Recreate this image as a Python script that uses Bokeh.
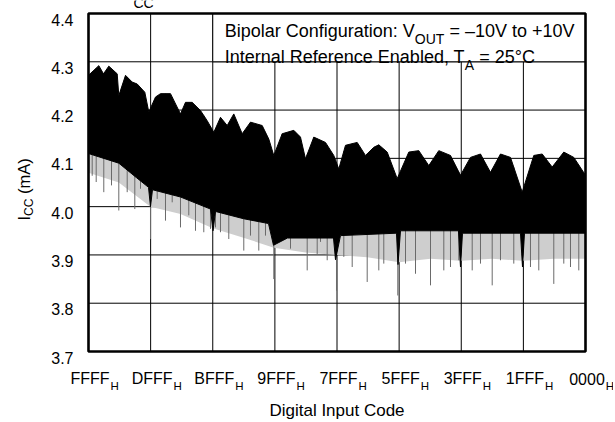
import numpy as np
from bokeh.plotting import figure
from bokeh.models import Label, Range1d
from bokeh.embed import file_html
from bokeh.resources import INLINE

# ---------------- data ----------------
x_ticks = [65535, 57343, 49151, 40959, 32767, 24575, 16383, 8191, 0]
x_tick_labels = ["FFFF", "DFFF", "BFFF", "9FFF", "7FFF", "5FFF", "3FFF", "1FFF", "0000"]
y_ticks = [3.7, 3.8, 3.9, 4.0, 4.1, 4.2, 4.3, 4.4]
y_tick_labels = ["3.7", "3.8", "3.9", "4.0", "4.1", "4.2", "4.3", "4.4"]

# upper envelope of the dense trace (code, I_CC mA)
upper_codes = [65535, 64177, 63557, 62858, 61751, 61540, 60656, 59773, 59114, 58111,
               57584, 56700, 56041, 54722, 53404, 52745, 51861, 50767, 49883, 49013,
               48130, 47246, 46376, 45268, 44174, 42631, 41761, 41101, 39994, 38464,
               37581, 36922, 35827, 34284, 33190, 32531, 31647, 30104, 29010, 27916,
               27256, 26148, 24830, 23300, 21982, 20663, 19345, 17802, 16483, 15165,
               13846, 12528, 11209, 9890, 8348, 6818, 5711, 4392, 2862, 1543, 0]
upper_icc = [4.272, 4.292, 4.275, 4.291, 4.275, 4.230, 4.272, 4.258, 4.254, 4.237,
             4.196, 4.227, 4.234, 4.234, 4.192, 4.216, 4.216, 4.199, 4.178, 4.154,
             4.185, 4.168, 4.192, 4.151, 4.175, 4.168, 4.140, 4.106, 4.151, 4.158,
             4.144, 4.099, 4.144, 4.133, 4.106, 4.078, 4.127, 4.133, 4.106, 4.123,
             4.128, 4.113, 4.058, 4.113, 4.116, 4.085, 4.116, 4.106, 4.065, 4.102,
             4.109, 4.071, 4.109, 4.102, 4.030, 4.106, 4.109, 4.082, 4.113, 4.102, 4.065]

# lower edge of the dense (black) part of the trace
lower_codes = [65535, 61540, 59206, 57623, 57360, 57096, 53404, 49448, 49118, 48789,
               45097, 41800, 41141, 39295, 33230, 32966, 32307, 24923, 24725, 24395,
               16747, 16483, 16219, 8571, 8308, 8044, 0]
lower_icc = [4.110, 4.090, 4.060, 4.040, 4.000, 4.035, 4.020, 3.995, 3.950, 3.990,
             3.975, 3.965, 3.920, 3.935, 3.935, 3.890, 3.940, 3.945, 3.880, 3.950,
             3.950, 3.875, 3.945, 3.945, 3.875, 3.945, 3.945]

# floor of the grey, sparser part of the trace
haze_codes = [65535, 61540, 57360, 53404, 49151, 45000, 41101, 36922, 32767, 28786,
              24575, 20438, 16383, 12303, 8191, 4182, 0]
haze_icc = [4.070, 4.050, 4.000, 3.985, 3.955, 3.935, 3.915, 3.905, 3.900, 3.895,
            3.885, 3.892, 3.888, 3.892, 3.888, 3.892, 3.892]

# deepest downward excursions of the trace
spike_codes = [65047, 64520, 63518, 62502, 61540, 60432, 59430, 58678, 57360, 56477,
               55382, 54499, 53404, 52310, 51426, 50332, 49448, 48789, 48130, 47036,
               45058, 44174, 43080, 42196, 41101, 39994, 38899, 37805, 36698, 35827,
               34943, 35378, 34060, 32834, 31871, 30764, 28786, 27256, 26597, 24751,
               23735, 22416, 20438, 18684, 17802, 16707, 14940, 13846, 12303, 11209,
               9455, 7255, 6160, 4182, 2862, 1978, 884]
spike_icc = [4.064, 4.051, 4.030, 4.044, 3.992, 4.030, 3.995, 4.037, 3.933, 4.016,
             3.971, 4.009, 3.957, 3.982, 3.950, 3.947, 3.954, 3.957, 3.947, 3.933,
             3.909, 3.940, 3.909, 3.940, 3.850, 3.954, 3.913, 3.954, 3.868, 3.940,
             3.927, 3.902, 3.889, 3.826, 3.896, 3.875, 3.844, 3.868, 3.882, 3.816,
             3.882, 3.861, 3.837, 3.868, 3.875, 3.889, 3.868, 3.882, 3.837, 3.889,
             3.882, 3.875, 3.868, 3.840, 3.882, 3.875, 3.868]

# ---------------- helpers ----------------
FONT = "Liberation Sans"
_W = {' ': 278, ':': 278, ',': 278, '=': 584, '+': 584, '\u2013': 556, '\u00b0': 400,
      '(': 333, ')': 333, 'A': 667, 'B': 667, 'C': 722, 'D': 722, 'E': 667, 'F': 611,
      'H': 722, 'I': 278, 'O': 778, 'R': 722, 'T': 611, 'U': 722, 'V': 667,
      'a': 556, 'b': 556, 'c': 500, 'd': 556, 'e': 556, 'f': 278, 'g': 556, 'i': 222,
      'l': 222, 'm': 833, 'n': 556, 'o': 556, 'p': 556, 'r': 333, 't': 278, 'u': 556}


def tw(s, size):
    return sum(_W.get(ch, 556) for ch in s) * size / 1000.0


# ---------------- layout ----------------
W, H = 613, 420
BOX_L, BOX_R, BOX_T, BOX_B = 88, 585, 13, 351          # plot box in canvas px
XMAX, XMIN = x_ticks[0], x_ticks[-1]
YMIN, YMAX = y_ticks[0], y_ticks[-1]
cpp = (XMAX - XMIN) / (BOX_R - BOX_L)                  # codes per pixel
mpp = (YMAX - YMIN) / (BOX_B - BOX_T)                  # mA per pixel

p = figure(width=W, height=H,
           x_range=Range1d(XMAX + BOX_L * cpp, XMIN - (W - BOX_R) * cpp),
           y_range=Range1d(YMIN - (H - BOX_B) * mpp, YMAX + BOX_T * mpp),
           output_backend="svg", toolbar_location=None, title=None,
           x_axis_location=None, y_axis_location=None,
           min_border=0, background_fill_color="white", border_fill_color="white")
p.outline_line_color = None
p.grid.visible = False


def lab(x, y, text, size, dx=0, dy=0, align="left", angle=0.0):
    p.add_layout(Label(x=x, y=y, x_offset=dx, y_offset=dy, text=text, angle=angle,
                       text_align=align, text_baseline="alphabetic", text_font=FONT,
                       text_font_size=f"{size}px", text_color="black"))


# grid
p.segment(x0=x_ticks, y0=[YMIN] * len(x_ticks), x1=x_ticks, y1=[YMAX] * len(x_ticks),
          line_color="black", line_width=1)
p.segment(x0=[XMAX] * len(y_ticks), y0=y_ticks, x1=[XMIN] * len(y_ticks), y1=y_ticks,
          line_color="black", line_width=1)

# white annotation box at top right (covers grid)
p.quad(left=[x_ticks[2]], right=[XMIN], bottom=[y_ticks[-2]], top=[YMAX],
       fill_color="white", line_color="black", line_width=1)

# grey sparse part of the trace
haze_x = list(haze_codes) + list(lower_codes[::-1])
haze_y = list(haze_icc) + list(lower_icc[::-1])
p.patch(haze_x, haze_y, fill_color="#cecece", line_color=None)

# downward spikes (grey), drawn under the dense band
rc = np.array(upper_codes[::-1], dtype=float)
ru = np.array(upper_icc[::-1], dtype=float)
spike_top = np.interp(np.array(spike_codes, dtype=float), rc, ru)
p.segment(x0=spike_codes, y0=spike_top, x1=spike_codes, y1=spike_icc,
          line_color="#6a6a6a", line_width=1)

# dense band of the trace (black)
band_x = list(upper_codes) + list(lower_codes[::-1])
band_y = list(upper_icc) + list(lower_icc[::-1])
p.patch(band_x, band_y, fill_color="black", line_color="black", line_width=1)

# plot box outline
p.quad(left=[XMAX], right=[XMIN], bottom=[YMIN], top=[YMAX],
       fill_color=None, line_color="black", line_width=2.6)

# y tick labels
for t, l in zip(y_ticks, y_tick_labels):
    lab(XMAX, t, l, 16, dx=-15, dy=-6, align="right")

# x tick labels with subscript H
for code, l in zip(x_ticks, x_tick_labels):
    lab(code, YMIN, l, 16, dx=1.5, dy=-27.3, align="center")
    lab(code, YMIN, "H", 11.5, dx=1.5 + tw(l, 16) / 2 + 1, dy=-34)

# x axis title
lab((XMAX + XMIN) / 2, YMIN, "Digital Input Code", 17, dy=-59, align="center")

# y axis title  I_CC (mA), rotated
off = 131
lab(XMAX, YMIN, "I", 16.5, dx=-65, dy=off, angle=np.pi / 2)
off += tw("I", 16.5)
lab(XMAX, YMIN, "CC", 12, dx=-59.5, dy=off, angle=np.pi / 2)
off += tw("CC", 12) + tw(" ", 16.5)
lab(XMAX, YMIN, "(mA)", 16.5, dx=-65, dy=off, angle=np.pi / 2)

# fragment of the (cropped) heading above the chart
lab(XMAX, YMAX, "CC", 14, dx=45, dy=BOX_T - 2.5)


def text_run(parts, x0, base_off):
    xo = x0
    for txt, size, sub in parts:
        lead = len(txt) - len(txt.lstrip(" "))
        xo += tw(" " * lead, size)
        body = txt.lstrip(" ")
        lab(x_ticks[2], YMAX, body, size, dx=xo, dy=base_off - (7.3 if sub else 0))
        xo += tw(body, size)


text_run([("Bipolar Configuration: V", 18, False), ("OUT", 14, True),
          (" = \u201310V to +10V", 18, False)], 12, -17.7)
text_run([("Internal Reference Enabled, T", 18, False), ("A", 14, True),
          (" = 25\u00b0C", 18, False)], 12, -43.7)

open("out.html", "w").write(file_html(p, INLINE))
